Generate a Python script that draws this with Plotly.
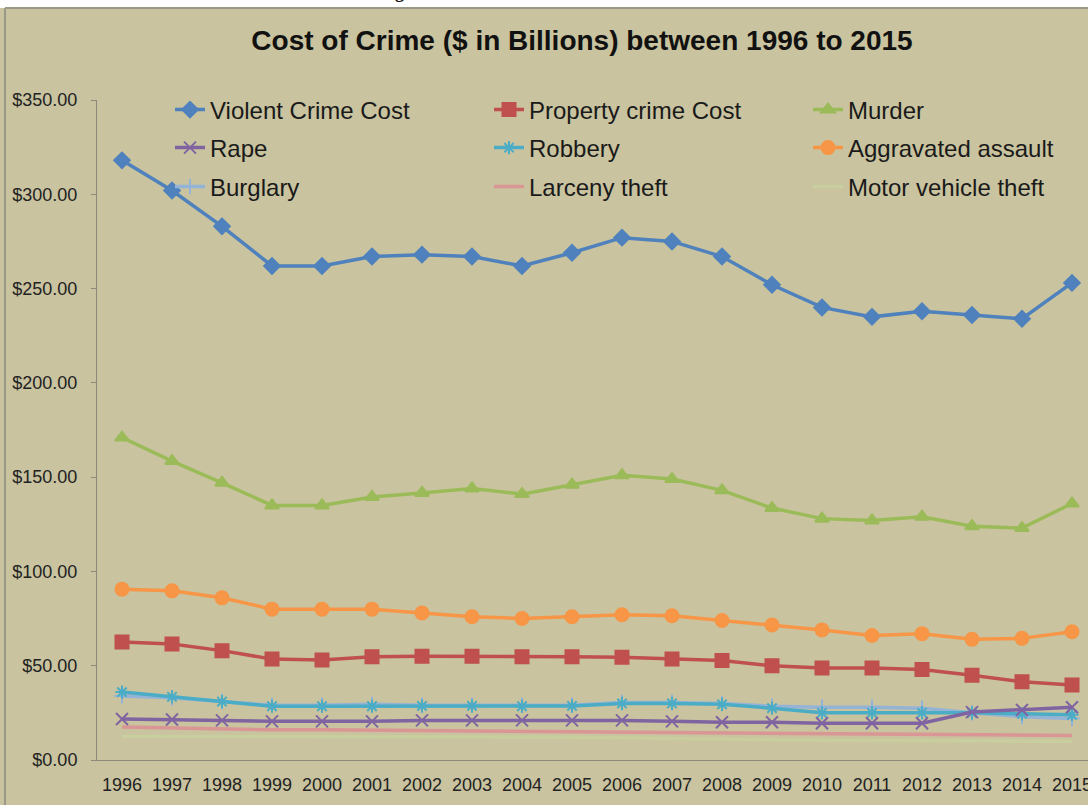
import plotly.graph_objects as go

years = [str(y) for y in range(1996, 2016)]

violent = [318, 302, 283, 262, 262, 267, 268, 267, 262, 269, 277, 275, 267, 252, 240, 235, 238, 236, 234, 253]
property_cost = [62.6, 61.5, 58, 53.5, 53, 54.7, 55, 55, 54.7, 54.7, 54.5, 53.5, 52.7, 50, 48.8, 48.8, 48, 45, 41.5, 39.8]
murder = [171, 158.5, 147, 135, 135, 139.5, 141.6, 144, 141, 146, 151, 149, 143, 133.6, 128, 127, 129, 124, 123, 136]
rape = [21.7, 21.5, 21, 20.5, 20.5, 20.5, 21, 21, 21, 21, 21, 20.5, 20, 20, 19.5, 19.5, 19.5, 25.4, 26.5, 28]
robbery = [36, 33.5, 31, 28.5, 28.5, 28.5, 28.7, 28.7, 28.5, 28.7, 30, 30, 29.5, 27.5, 25, 25, 25, 25, 24.5, 24]
aggravated = [90.6, 89.7, 86, 80, 80, 80, 78, 76, 75, 76, 77, 76.5, 74, 71.6, 69, 66, 67, 64, 64.5, 68]
burglary = [34, 33, 31, 29, 29, 29.5, 29, 29, 29, 29, 30.5, 30.5, 30, 28.5, 28, 28, 27.5, 25, 23, 22]
larceny = [17.5, 17, 16.5, 16, 16, 15.8, 15.6, 15.5, 15.3, 15.2, 15, 14.8, 14.5, 14.2, 14, 13.8, 13.6, 13.4, 13.2, 13]
motor = [12.5, 12.5, 12.4, 12.3, 12.3, 12.3, 12.3, 12.2, 12.2, 12, 11.8, 11.5, 11.2, 10.8, 10.5, 10.3, 10.2, 10.1, 10, 10]

series_names = ["Violent Crime Cost", "Property crime Cost", "Murder",
                "Rape", "Robbery", "Aggravated assault",
                "Burglary", "Larceny theft", "Motor vehicle theft"]
series_values = [violent, property_cost, murder, rape, robbery, aggravated, burglary, larceny, motor]
colors = ["#4F81BD", "#C0504D", "#9BBB59", "#8064A2", "#4BACC6", "#F79646", "#95B3D7", "#D99694", "#C8CE9E"]
symbols = ["diamond", "square", "triangle-up", "x-thin-open", "asterisk-open", "circle", "cross-thin-open", None, None]
sizes = [12, 13, 12, 12, 11, 13, 11, 0, 0]
legends = ["legend", "legend", "legend", "legend2", "legend2", "legend2", "legend3", "legend3", "legend3"]

BG = "#C9C39F"

fig = go.Figure()
order = [8, 7, 6, 4, 3, 1, 5, 2, 0]
for i in order:
    mode = "lines+markers" if symbols[i] else "lines"
    marker = dict(symbol=symbols[i], size=sizes[i], color=colors[i],
                  line=dict(color=colors[i], width=2)) if symbols[i] else None
    fig.add_trace(go.Scatter(
        x=list(range(len(years))), y=series_values[i], name=series_names[i],
        mode=mode, line=dict(color=colors[i], width=3.5),
        marker=marker, legend=legends[i], legendrank=i,
    ))

legend_common = dict(orientation="h", xref="container", yref="container",
                     xanchor="left", yanchor="middle", x=170 / 1088,
                     bgcolor="rgba(0,0,0,0)", entrywidth=274, entrywidthmode="pixels",
                     font=dict(family="Liberation Sans, Arial", size=24, color="#1a1a1a"),
                     traceorder="normal", itemwidth=30)

fig.update_layout(
    width=1088, height=805,
    margin=dict(l=97, r=0, t=100, b=45, autoexpand=False),
    paper_bgcolor=BG, plot_bgcolor=BG,
    showlegend=True,
    legend=dict(**legend_common, y=1 - 110 / 805),
    legend2=dict(**legend_common, y=1 - 148 / 805),
    legend3=dict(**legend_common, y=1 - 187 / 805),
    title=dict(text="<b>Cost of Crime ($ in Billions) between 1996 to 2015</b>",
               x=582 / 1088, xanchor="center", xref="container",
               y=1 - 40 / 805, yanchor="middle", yref="container",
               font=dict(family="Liberation Sans, Arial", size=28, color="#111111")),
    xaxis=dict(tickmode="array", tickvals=list(range(len(years))), ticktext=years,
               range=[-0.5, 19.32], showgrid=False, zeroline=False,
               showline=True, linecolor="#8C8A78", linewidth=1,
               ticks="", ticklabeloverflow="allow", ticklabelstandoff=8,
               tickfont=dict(family="Liberation Sans, Arial", size=18, color="#222222")),
    yaxis=dict(range=[0, 350], tickvals=[0, 50, 100, 150, 200, 250, 300, 350],
               tickformat="$,.2f", showgrid=False, zeroline=False,
               showline=True, linecolor="#8C8A78", linewidth=1,
               ticks="outside", ticklen=5, tickcolor="#8C8A78", ticklabelstandoff=10,
               tickfont=dict(family="Liberation Sans, Arial", size=18, color="#222222")),
)

PH = 660.0
PW = 991.0
top_line = 1 + (100 - 8) / PH
fig.add_shape(type="rect", xref="paper", yref="paper",
              x0=-97 / PW, x1=1, y0=top_line, y1=1 + 100 / PH,
              fillcolor="white", line=dict(width=0), layer="above")
fig.add_shape(type="line", xref="paper", yref="paper",
              x0=-92 / PW, x1=1, y0=top_line, y1=top_line,
              line=dict(color="#9A9886", width=2), layer="above")
fig.add_shape(type="line", xref="paper", yref="paper",
              x0=-92 / PW, x1=-92 / PW, y0=-45 / PH, y1=top_line,
              line=dict(color="#9A9886", width=2), layer="above")
fig.add_annotation(text="<b>Figure 1: The cost of crime in the United States</b>",
                   xref="paper", yref="paper", x=(560 - 97) / PW, y=1 + (100 - 4) / PH,
                   xanchor="center", yanchor="bottom", showarrow=False,
                   font=dict(family="Liberation Serif, Times New Roman", size=18, color="#111111"))

fig.write_html("out.html")
